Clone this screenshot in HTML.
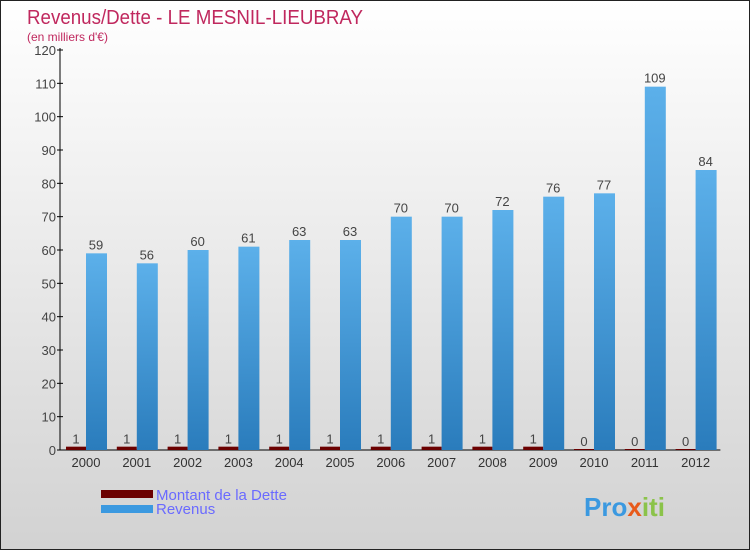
<!DOCTYPE html>
<html><head><meta charset="utf-8"><style>
body{margin:0}
#c{position:relative;width:748px;height:548px;border:1px solid #222;background:linear-gradient(#fff,#d2d2d2);font-family:"Liberation Sans",sans-serif;overflow:hidden}
</style></head><body>
<div id="c">
<svg width="748" height="548">
<defs><linearGradient id="rg" x1="0" y1="0" x2="0" y2="1"><stop offset="0" stop-color="#5cb0ea"/><stop offset="1" stop-color="#2a7cbc"/></linearGradient></defs>
<text x="26" y="23" font-size="20" fill="#c0285e" textLength="336" lengthAdjust="spacingAndGlyphs">Revenus/Dette - LE MESNIL-LIEUBRAY</text>
<text x="26" y="40" font-size="12" fill="#c0285e">(en milliers d'€)</text>
<g id="ax"></g><g id="bars"></g>
<g>
<rect x="100" y="489" width="52" height="8" fill="#6b0000"/>
<rect x="100" y="504" width="52" height="8" fill="#3b99e0"/>
<text x="155" y="499" font-size="15" fill="#6a6aff">Montant de la Dette</text>
<text x="155" y="513" font-size="15" fill="#6a6aff">Revenus</text>
</g>
<text x="583" y="515" font-size="26" font-weight="bold" fill="#3b99e0">Pro<tspan fill="#e85a1a">x</tspan><tspan fill="#8bc34a">iti</tspan></text>
</svg></div>
<script>
const years=["2000","2001","2002","2003","2004","2005","2006","2007","2008","2009","2010","2011","2012"];
const debt=[1,1,1,1,1,1,1,1,1,1,0,0,0];
const revenue=[59,56,60,61,63,63,70,70,72,76,77,109,84];
const yTicks=[0,10,20,30,40,50,60,70,80,90,100,110,120];
const NS="http://www.w3.org/2000/svg";
const x0=59,band=50.8,y0=449,yMax=120,ph=400;
const y=v=>y0-v/yMax*ph;
function mk(t,a,p){const e=document.createElementNS(NS,t);for(const k in a)e.setAttribute(k,a[k]);p.appendChild(e);return e;}
const ax=document.getElementById('ax'),bg=document.getElementById('bars');
yTicks.forEach(v=>{
 const l=mk('line',{x1:x0-3,x2:x0+3,y1:y(v),y2:y(v),stroke:'#000'},ax);
 
 
 const t=mk('text',{x:x0-4,y:y(v)+5,'font-size':13,fill:'#444','text-anchor':'end'},ax);t.textContent=v;
 
 
});
const a1=mk('line',{x1:x0,x2:x0,y1:y(120)-2,y2:y0,stroke:'#000'},ax);


const a2=mk('line',{x1:x0,x2:x0+band*13,y1:y0,y2:y0,stroke:'#000'},ax);


years.forEach((yr,i)=>{
 const bx=x0+i*band+6;
 const dh=Math.max(y0-y(debt[i]),debt[i]>0?3:1);
 const d=mk('rect',{x:bx,y:y0-dh,width:20,height:dh,fill:'#6b0000'},bg);
 
 
 const r=mk('rect',{x:bx+20,y:y(revenue[i]),width:21,height:y0-y(revenue[i])},bg);
 r.setAttribute('fill','url(#rg)');
 
 
 const t1=mk('text',{x:bx+10,y:y0-dh-3,'font-size':13,fill:'#444','text-anchor':'middle'},bg);t1.textContent=debt[i];
 
 
 const t2=mk('text',{x:bx+30,y:y(revenue[i])-4,'font-size':13,fill:'#444','text-anchor':'middle'},bg);t2.textContent=revenue[i];
 
 
 const t3=mk('text',{x:bx+20,y:y0+17,'font-size':13,fill:'#333','text-anchor':'middle'},bg);t3.textContent=yr;
 
 
});
</script></body></html>
